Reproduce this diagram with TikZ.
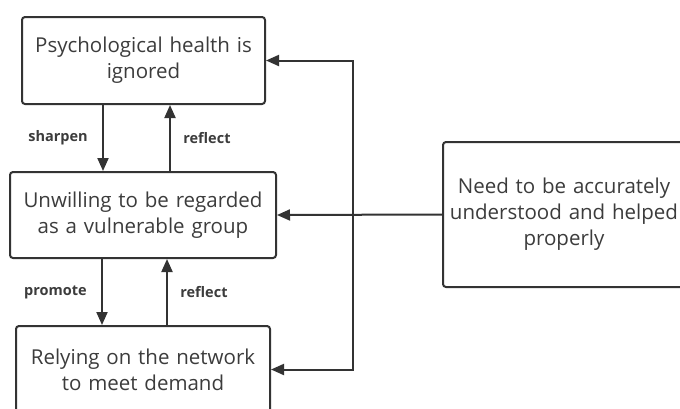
\documentclass[tikz,border=0pt]{standalone}
\usepackage{fontspec}
\setmainfont{Open Sans}
\usetikzlibrary{arrows.meta}
\definecolor{inkline}{HTML}{333333}
\definecolor{inktext}{HTML}{3C3C3C}
\tikzset{
  box/.style={draw=inkline, line width=2pt, rounded corners=3pt, fill=white,
    align=center, text=inktext, inner sep=0pt, font=\fontsize{20.5}{26}\selectfont},
  conn/.style={draw=inkline, line width=2pt, -{Triangle[length=13pt,width=11pt]}},
  link/.style={draw=inkline, line width=2pt},
  tag/.style={font=\bfseries\fontsize{14.5}{16}\selectfont, text=inktext},
}
\begin{document}
\begin{tikzpicture}[x=1pt,y=-1pt]
\useasboundingbox (0,0) rectangle (680,408);
\node[box, minimum width=243pt, minimum height=87pt, text width=236pt] (health) at (143.5,60.5) {Psychological health is\\ignored};
\node[box, minimum width=266pt, minimum height=86pt, text width=256pt] (unwill) at (143,215) {Unwilling to be regarded\\as a vulnerable group};
\node[box, minimum width=254pt, minimum height=87pt, text width=246pt] (network) at (143,369.5) {Relying on the network\\to meet demand};
\node[box, minimum width=242pt, minimum height=145pt, text width=240pt] (need) at (564,214.5) {Need to be accurately\\understood and helped\\properly};
\coordinate (jx) at (353,0);
% between the three boxes on the left
\draw[conn] ([xshift=-40.5pt]health.south) -- ([xshift=-40.5pt]health.south |- unwill.north) node[tag, midway, left=11pt] {sharpen};
\draw[conn] ([xshift=26.5pt]health.south |- unwill.north) -- ([xshift=26.5pt]health.south) node[tag, midway, right=9pt] {reflect};
\draw[conn] ([xshift=-41pt]unwill.south) -- ([xshift=-41pt]unwill.south |- network.north) node[tag, midway, left=11pt] {promote};
\draw[conn] ([xshift=24pt]unwill.south |- network.north) -- ([xshift=24pt]unwill.south) node[tag, midway, right=9pt] {reflect};
% from the need box
\draw[conn] (need.west) -- (unwill.east);
\draw[conn] (jx |- unwill.east) -- (jx |- health.east) -- (health.east);
\draw[conn] (jx |- unwill.east) -- (jx |- network.east) -- (network.east);
\end{tikzpicture}
\end{document}
